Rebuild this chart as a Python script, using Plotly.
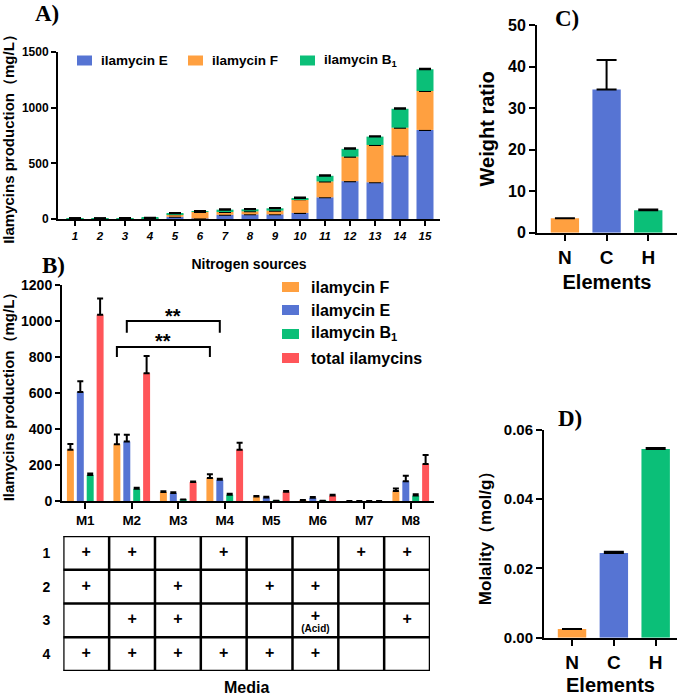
import plotly.graph_objects as go

W, H = 685, 696

# ---------------- data ----------------
# Panel A: stacked production per nitrogen source
nitrogen_sources = [str(i) for i in range(1, 16)]
a_ilamycin_E = [3, 2, 3, 4, 20, 5, 38, 42, 42, 55, 195, 340, 330, 570, 800]
a_ilamycin_F = [2, 2, 2, 3, 22, 58, 25, 27, 33, 122, 142, 220, 335, 250, 350]
a_ilamycin_B1 = [1, 1, 2, 3, 9, 6, 21, 18, 21, 12, 51, 70, 75, 170, 195]
a_err_E = [1, 1, 1, 1, 3, 2, 3, 3, 3, 20, 8, 45, 4, 5, 5]
a_err_F = [1, 1, 1, 1, 3, 3, 3, 8, 3, 4, 5, 30, 4, 5, 4]
a_err_B1 = [1, 1, 1, 1, 2, 2, 3, 3, 3, 4, 4, 5, 4, 4, 4]
a_yticks = [0, 500, 1000, 1500]

# Panel B: grouped production per medium
media = ["M1", "M2", "M3", "M4", "M5", "M6", "M7", "M8"]
b_ilamycin_F = [285, 315, 50, 128, 25, 5, 0, 55]
b_err_F = [32, 55, 4, 20, 3, 1, 0, 15]
b_ilamycin_E = [605, 330, 45, 118, 20, 18, 0, 110]
b_err_E = [60, 38, 4, 5, 3, 4, 0, 30]
b_ilamycin_B1 = [145, 68, 8, 35, 1, 2, 0, 30]
b_err_B1 = [8, 5, 1, 5, 0, 0, 0, 7]
b_total = [1035, 710, 105, 285, 52, 30, 0, 205]
b_err_total = [90, 96, 3, 38, 4, 5, 0, 50]
b_yticks = [0, 200, 400, 600, 800, 1000, 1200]

# significance brackets: (series index, medium start, medium end, bracket y, drop y, label y, text)
brackets = [
    (0, "M2", "M4", 855, 800, 890, "**"),
    (1, "M2", "M4", 1000, 935, 1030, "**"),
]

# media composition table
table_rows = ["1", "2", "3", "4"]
table_marks = [
    ["+", "+", "", "+", "", "", "+", "+"],
    ["+", "", "+", "", "+", "+", "", ""],
    ["", "+", "+", "", "", "+", "", "+"],
    ["+", "+", "+", "+", "+", "+", "", ""],
]
table_notes = {("3", "M6"): "(Acid)"}

# Panel C / D
elements = ["N", "C", "H"]
c_weight_ratio = [3.5, 34.5, 5.4]
c_err = [0, 7.1, 0.2]
c_yticks = [0, 10, 20, 30, 40, 50]
d_molality = [0.0025, 0.0245, 0.0545]
d_err = [0, 0.0003, 0.0003]
d_yticks = [0.0, 0.02, 0.04, 0.06]

# ---------------- style ----------------
BLUE = "#5674D3"
ORANGE = "#FFA040"
GREEN = "#0BBF78"
RED = "#FF5559"
SANS = "Liberation Sans"
SERIF = "Liberation Serif"


def fx(p):
    return p / W


def fy(p):
    return 1 - p / H


def bfont(size, style="normal"):
    return dict(family=SANS, size=size, color="black", weight=700, style=style)


def err(arr, width, thick=1.5):
    vals = [e if e > 0 else None for e in arr]
    return dict(type="data", array=vals, arrayminus=[0] * len(arr), symmetric=False,
                color="black", thickness=thick, width=width, visible=True)


def bold(labels):
    return [f"<b>{t}</b>" for t in labels]


fig = go.Figure()

# ---- Panel A (stack via base) ----
baseF = [e for e in a_ilamycin_E]
baseB = [e + f for e, f in zip(a_ilamycin_E, a_ilamycin_F)]
for vals, base, col, er, name in [
    (a_ilamycin_E, None, BLUE, a_err_E, "ilamycin E"),
    (a_ilamycin_F, baseF, ORANGE, a_err_F, "ilamycin F"),
    (a_ilamycin_B1, baseB, GREEN, a_err_B1, "ilamycin B1"),
]:
    fig.add_trace(go.Bar(x=nitrogen_sources, y=vals, base=base, width=0.68, name=name,
                         marker=dict(color=col, line=dict(width=0)),
                         error_y=err(er, 6, 2), xaxis="x", yaxis="y", showlegend=False))

# ---- Panel B (grouped via offsets) ----
slot, bw = 0.213, 0.15
b_series = [
    (b_ilamycin_F, b_err_F, ORANGE, "ilamycin F"),
    (b_ilamycin_E, b_err_E, BLUE, "ilamycin E"),
    (b_ilamycin_B1, b_err_B1, GREEN, "ilamycin B1"),
    (b_total, b_err_total, RED, "total ilamycins"),
]
for k, (vals, er, col, name) in enumerate(b_series):
    fig.add_trace(go.Bar(x=media, y=vals, width=bw, offset=(k - 1.5) * slot - bw / 2, name=name,
                         marker=dict(color=col, line=dict(width=0)),
                         error_y=err(er, 3, 2), xaxis="x2", yaxis="y2", showlegend=False))

# ---- Panel C ----
fig.add_trace(go.Bar(x=elements, y=c_weight_ratio, width=0.68,
                     marker=dict(color=[ORANGE, BLUE, GREEN], line=dict(width=0)),
                     error_y=err(c_err, 10, 2), xaxis="x3", yaxis="y3", showlegend=False))

# ---- Panel D ----
fig.add_trace(go.Bar(x=elements, y=d_molality, width=0.68,
                     marker=dict(color=[ORANGE, BLUE, GREEN], line=dict(width=0)),
                     error_y=err(d_err, 10, 2), xaxis="x4", yaxis="y4", showlegend=False))

# ---- Table ----
tx, ty, tt = [], [], []
nx, ny, nt = [], [], []
for ri, row in enumerate(table_marks):
    r = table_rows[ri]
    for m, mark in zip(media, row):
        if mark:
            note = table_notes.get((r, m))
            tx.append(m)
            ty.append(ri + 0.5 - (0.1 if note else 0))
            tt.append(f"<b>{mark}</b>")
            if note:
                nx.append(m)
                ny.append(ri + 0.5 + 0.27)
                nt.append(f"<b>{note}</b>")
fig.add_trace(go.Scatter(x=tx, y=ty, text=tt, mode="text", textfont=bfont(16),
                         xaxis="x5", yaxis="y5", showlegend=False, hoverinfo="skip"))
fig.add_trace(go.Scatter(x=nx, y=ny, text=nt, mode="text", textfont=bfont(10),
                         xaxis="x5", yaxis="y5", showlegend=False, hoverinfo="skip"))

shapes = []
for i in range(len(media) + 1):
    shapes.append(dict(type="line", xref="x5", yref="y5", x0=i - 0.5, x1=i - 0.5, y0=0, y1=len(table_rows),
                       line=dict(color="black", width=2.5)))
for j in range(len(table_rows) + 1):
    shapes.append(dict(type="line", xref="x5", yref="y5", x0=-0.5, x1=len(media) - 0.5, y0=j, y1=j,
                       line=dict(color="black", width=2.5)))

# significance brackets
annotations = []
for s, m0, m1, yb, yd, yl, txt in brackets:
    off = (s - 1.5) * slot
    x0 = media.index(m0) + off
    x1 = media.index(m1) + off
    shapes.append(dict(type="path", xref="x2", yref="y2",
                       path=f"M {x0},{yd} L {x0},{yb} L {x1},{yb} L {x1},{yd}",
                       line=dict(color="black", width=2)))
    annotations.append(dict(x=(x0 + x1) / 2, y=yl, xref="x2", yref="y2", text=f"<b>{txt}</b>",
                            showarrow=False, font=bfont(20), xanchor="center", yanchor="middle"))

# manual legends
legA = [(BLUE, "ilamycin E", 77), (ORANGE, "ilamycin F", 188), (GREEN, "ilamycin B<sub>1</sub>", 300)]
for col, txt, x0 in legA:
    shapes.append(dict(type="rect", xref="paper", yref="paper", x0=fx(x0), x1=fx(x0 + 15),
                       y0=fy(65.5), y1=fy(55.5), fillcolor=col, line=dict(width=0)))
    annotations.append(dict(x=fx(x0 + 22), y=fy(60.5), xref="paper", yref="paper", text=f"<b>{txt}</b>",
                            showarrow=False, font=bfont(13.5), xanchor="left", yanchor="middle"))
legB = [(ORANGE, "ilamycin F", 287), (BLUE, "ilamycin E", 310), (GREEN, "ilamycin B<sub>1</sub>", 334),
        (RED, "total ilamycins", 358)]
for col, txt, yc in legB:
    shapes.append(dict(type="rect", xref="paper", yref="paper", x0=fx(282), x1=fx(299),
                       y0=fy(yc + 5), y1=fy(yc - 5), fillcolor=col, line=dict(width=0)))
    annotations.append(dict(x=fx(309), y=fy(yc), xref="paper", yref="paper", text=f"<b>{txt}</b>",
                            showarrow=False, font=bfont(16), xanchor="left", yanchor="middle"))

# panel letters
for letter, x, y in [("A)", 47, 14), ("B)", 53, 265), ("C)", 567, 19), ("D)", 570, 418)]:
    annotations.append(dict(x=fx(x), y=fy(y), xref="paper", yref="paper", text=f"<b>{letter}</b>",
                            showarrow=False, font=dict(family=SERIF, size=23, color="black"),
                            xanchor="center", yanchor="middle"))

axis_common = dict(showline=True, linecolor="black", linewidth=2, ticks="outside", tickcolor="black",
                   tickwidth=2, showgrid=False, zeroline=False, automargin=False)

fig.update_layout(
    width=W, height=H, margin=dict(l=0, r=0, t=0, b=0, autoexpand=False),
    paper_bgcolor="white", plot_bgcolor="white", barmode="overlay", showlegend=False,
    xaxis=dict(**axis_common, domain=[fx(58), fx(440)], anchor="y", type="category",
               range=[-0.68, 14.6], ticklen=5, tickfont=bfont(11.5, "italic"),
               tickvals=nitrogen_sources, ticktext=[f"<b><i>{t}</i></b>" for t in nitrogen_sources],
               title=dict(text="<b>Nitrogen sources</b>", font=bfont(14), standoff=18)),
    yaxis=dict(**axis_common, domain=[fy(219), fy(52)], anchor="x", range=[0, 1500],
               tickvals=a_yticks, ticktext=bold(a_yticks), ticklen=5, tickfont=bfont(12),
               title=dict(text="<b>Ilamycins production（mg/L）</b>", font=bfont(15), standoff=5)),
    xaxis2=dict(**axis_common, domain=[fx(62), fx(434)], anchor="y2", type="category",
                range=[-0.5, 7.5], ticklen=6, tickfont=bfont(13.5),
                tickvals=media, ticktext=bold(media)),
    yaxis2=dict(**axis_common, domain=[fy(501), fy(285)], anchor="x2", range=[0, 1200],
                tickvals=b_yticks, ticktext=bold(b_yticks), ticklen=5, tickfont=bfont(14),
                title=dict(text="<b>Ilamycins production（mg/L）</b>", font=bfont(15), standoff=3)),
    xaxis3=dict(**axis_common, domain=[fx(537), fx(677)], anchor="y3", type="category",
                range=[-0.67, 2.69], ticklen=6, tickfont=bfont(19),
                tickvals=elements, ticktext=bold(elements),
                title=dict(text="<b>Elements</b>", font=bfont(20), standoff=8)),
    yaxis3=dict(**axis_common, domain=[fy(232.7), fy(25)], anchor="x3", range=[0, 50],
                tickvals=c_yticks, ticktext=bold(c_yticks), ticklen=6, tickfont=bfont(16),
                title=dict(text="<b>Weight ratio</b>", font=bfont(20), standoff=8)),
    xaxis4=dict(**axis_common, domain=[fx(544), fx(677)], anchor="y4", type="category",
                range=[-0.67, 2.51], ticklen=6, tickfont=bfont(19),
                tickvals=elements, ticktext=bold(elements),
                title=dict(text="<b>Elements</b>", font=bfont(20), standoff=6)),
    yaxis4=dict(**axis_common, domain=[fy(637.7), fy(430)], anchor="x4", range=[0, 0.06],
                tickvals=d_yticks, ticktext=bold([f"{v:.2f}" for v in d_yticks]),
                ticklen=6, tickfont=bfont(15),
                title=dict(text="<b>Molality（mol/g）</b>", font=bfont(17), standoff=8)),
    xaxis5=dict(domain=[fx(63.3), fx(430)], anchor="y5", type="category", categoryarray=media,
                categoryorder="array", range=[-0.5, 7.5], showline=False, showgrid=False,
                zeroline=False, ticks="", showticklabels=False, automargin=False,
                title=dict(text="<b>Media</b>", font=bfont(16), standoff=12)),
    yaxis5=dict(domain=[fy(671), fy(536)], anchor="x5", range=[4, 0], showline=False, showgrid=False,
                zeroline=False, ticks="", tickvals=[0.5, 1.5, 2.5, 3.5], ticktext=bold(table_rows),
                tickfont=bfont(14), ticklabelstandoff=12, automargin=False),
    shapes=shapes, annotations=annotations,
)

fig.write_html("out.html", config={"displayModeBar": False},
               post_script="document.body.style.margin='0';document.body.style.overflow='hidden';")
